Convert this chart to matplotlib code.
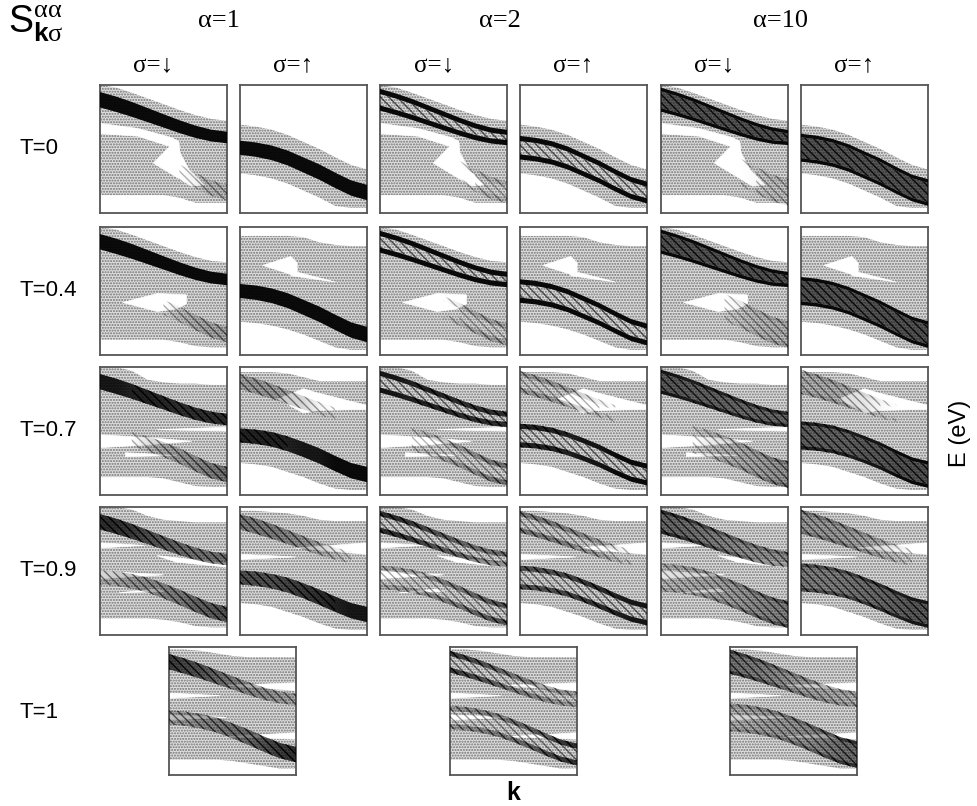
import numpy as np
import matplotlib
matplotlib.use("Agg")
import matplotlib.pyplot as plt
from matplotlib.patches import Polygon

plt.rcParams.update({
    "mathtext.fontset": "custom",
    "mathtext.rm": "Liberation Serif",
    "mathtext.it": "Liberation Serif:italic",
    "mathtext.sf": "Liberation Sans",
    "mathtext.bf": "Liberation Sans:bold",
})

# ---------------- data ----------------
K = [0.0, 0.125, 0.25, 0.375, 0.5, 0.625, 0.75, 0.875, 1.0]
ALPHAS = ["1", "2", "10"]
SPINS = ["↓", "↑"]
TEMPS = ["0", "0.4", "0.7", "0.9", "1"]

# band centres (E, panel fraction) at the k points
U_CENTER = [0.885, 0.85, 0.81, 0.765, 0.72, 0.675, 0.635, 0.605, 0.59]
L_CENTER = {
    "0":   [0.51, 0.495, 0.47, 0.43, 0.375, 0.32, 0.255, 0.195, 0.16],
    "0.4": [0.50, 0.487, 0.463, 0.425, 0.372, 0.318, 0.255, 0.195, 0.16],
    "0.7": [0.465, 0.455, 0.435, 0.40, 0.355, 0.305, 0.245, 0.19, 0.16],
    "0.9": [0.45, 0.44, 0.42, 0.39, 0.345, 0.295, 0.24, 0.19, 0.16],
    "1":   [0.45, 0.44, 0.42, 0.39, 0.345, 0.295, 0.24, 0.19, 0.16],
}
# half widths / half separations of the bands for each alpha
HALF_UP = {
    "1":  [0.06, 0.06, 0.058, 0.055, 0.052, 0.05, 0.048, 0.046, 0.045],
    "2":  [0.065, 0.064, 0.062, 0.058, 0.054, 0.05, 0.046, 0.042, 0.04],
    "10": [0.08, 0.078, 0.075, 0.07, 0.065, 0.06, 0.055, 0.05, 0.045],
}
HALF_LO = {
    "1":  [0.055, 0.056, 0.057, 0.058, 0.059, 0.06, 0.06, 0.06, 0.06],
    "2":  [0.072, 0.072, 0.071, 0.07, 0.069, 0.068, 0.067, 0.066, 0.065],
    "10": [0.095, 0.095, 0.094, 0.093, 0.092, 0.092, 0.091, 0.09, 0.09],
}
# spectral weight (darkness 0..1) of upper / lower band along k
W_UP = {
    ("0", "↓"):   [1, 1, 1, 1, 1, 1, 1, 1, 1],
    ("0", "↑"):   [0, 0, 0, 0, 0, 0, 0, 0, 0],
    ("0.4", "↓"): [1, 1, 1, 1, 1, 1, 1, 1, 1],
    ("0.4", "↑"): [0, 0, 0, 0, 0, 0, 0, 0, 0],
    ("0.7", "↓"): [0.95, 0.95, 0.9, 0.9, 0.88, 0.85, 0.85, 0.85, 0.85],
    ("0.7", "↑"): [0.3, 0.35, 0.35, 0.3, 0.25, 0.1, 0, 0, 0],
    ("0.9", "↓"): [0.85, 0.85, 0.8, 0.72, 0.65, 0.6, 0.55, 0.55, 0.55],
    ("0.9", "↑"): [0.5, 0.5, 0.5, 0.45, 0.4, 0.3, 0.15, 0, 0],
    ("1", ""):    [0.8, 0.75, 0.7, 0.6, 0.5, 0.45, 0.4, 0.35, 0.3],
}
W_LO = {
    ("0", "↓"):   [0, 0, 0, 0, 0, 0, 0.1, 0.2, 0.2],
    ("0", "↑"):   [1, 1, 1, 1, 1, 1, 1, 1, 1],
    ("0.4", "↓"): [0, 0, 0, 0, 0, 0.15, 0.25, 0.3, 0.3],
    ("0.4", "↑"): [1, 1, 1, 1, 1, 1, 1, 1, 1],
    ("0.7", "↓"): [0, 0, 0, 0.2, 0.3, 0.35, 0.4, 0.5, 0.55],
    ("0.7", "↑"): [0.9, 0.9, 0.9, 0.9, 0.95, 0.95, 1, 1, 1],
    ("0.9", "↓"): [0.25, 0.3, 0.35, 0.4, 0.45, 0.5, 0.6, 0.65, 0.7],
    ("0.9", "↑"): [0.7, 0.7, 0.7, 0.75, 0.8, 0.85, 0.9, 0.95, 0.95],
    ("1", ""):    [0.35, 0.4, 0.45, 0.5, 0.55, 0.6, 0.7, 0.8, 0.85],
}
# extent of the weak (stippled) spectral weight
STIP_TOP = {
    ("0", "↓"):   [1.0, 0.98, 0.94, 0.895, 0.85, 0.805, 0.765, 0.735, 0.72],
    ("0", "↑"):   [0.69, 0.675, 0.65, 0.61, 0.555, 0.50, 0.435, 0.375, 0.34],
    ("0.4", "↓"): [1.0, 0.98, 0.94, 0.895, 0.85, 0.805, 0.765, 0.735, 0.725],
    ("0.4", "↑"): [0.93, 0.93, 0.93, 0.93, 0.92, 0.88, 0.86, 0.85, 0.85],
    ("0.7", "↓"): [1.0, 1.0, 0.97, 0.9, 0.88, 0.87, 0.87, 0.86, 0.86],
    ("0.7", "↑"): [0.96, 0.96, 0.96, 0.95, 0.92, 0.89, 0.89, 0.89, 0.89],
    ("0.9", "↓"): [1.0, 1.0, 0.98, 0.93, 0.9, 0.89, 0.88, 0.88, 0.88],
    ("0.9", "↑"): [0.97, 0.97, 0.96, 0.95, 0.93, 0.9, 0.89, 0.89, 0.89],
    ("1", ""):    [0.98, 0.98, 0.97, 0.95, 0.93, 0.92, 0.92, 0.92, 0.92],
}
STIP_BOT = {
    ("0", "↓"):   [0.14, 0.14, 0.14, 0.14, 0.14, 0.12, 0.08, 0.08, 0.08],
    ("0", "↑"):   [0.31, 0.295, 0.27, 0.23, 0.175, 0.12, 0.055, 0.04, 0.04],
    ("0.4", "↓"): [0.12, 0.12, 0.12, 0.12, 0.12, 0.1, 0.07, 0.06, 0.06],
    ("0.4", "↑"): [0.26, 0.25, 0.23, 0.2, 0.16, 0.11, 0.06, 0.04, 0.04],
    ("0.7", "↓"): [0.14, 0.14, 0.14, 0.14, 0.13, 0.1, 0.07, 0.065, 0.065],
    ("0.7", "↑"): [0.25, 0.24, 0.22, 0.18, 0.14, 0.09, 0.05, 0.04, 0.04],
    ("0.9", "↓"): [0.13, 0.13, 0.13, 0.13, 0.12, 0.1, 0.07, 0.06, 0.06],
    ("0.9", "↑"): [0.25, 0.24, 0.22, 0.18, 0.14, 0.09, 0.05, 0.04, 0.04],
    ("1", ""):    [0.12, 0.12, 0.12, 0.12, 0.11, 0.09, 0.07, 0.05, 0.05],
}
# white gaps inside the stippled weight (k, E)
GAPS = {
    ("0", "↓"): [[(0, 0.70), (0.3, 0.66), (0.56, 0.59), (0.62, 0.56), (0.63, 0.47),
                  (0.70, 0.34), (0.82, 0.22), (0.72, 0.21), (0.42, 0.39), (0.55, 0.52),
                  (0.3, 0.60), (0, 0.62)]],
    ("0", "↑"): [],
    ("0.4", "↓"): [[(0.18, 0.41), (0.45, 0.48), (0.68, 0.47), (0.68, 0.40),
                    (0.60, 0.36), (0.45, 0.34)]],
    ("0.4", "↑"): [[(0.18, 0.70), (0.40, 0.77), (0.45, 0.72), (0.45, 0.65),
                    (0.40, 0.63)],
                   [(0.40, 0.66), (0.75, 0.57), (0.40, 0.62)]],
    ("0.7", "↓"): [[(0, 0.47), (0.35, 0.45), (0.72, 0.42), (0.35, 0.39), (0, 0.37)],
                   [(1.0, 0.53), (0.45, 0.51), (1.0, 0.50)],
                   [(0.2, 0.33), (0.6, 0.31), (0.2, 0.30)]],
    ("0.7", "↑"): [[(0.30, 0.75), (0.50, 0.83), (0.60, 0.80), (1.0, 0.70), (1.0, 0.67),
                    (0.60, 0.66), (0.50, 0.64)]],
    ("0.9", "↓"): [[(0, 0.72), (0.35, 0.70), (0, 0.68)],
                   [(0.45, 0.62), (1.0, 0.56), (1.0, 0.53), (0.6, 0.57)],
                   [(0, 0.50), (0.5, 0.47), (0, 0.44)],
                   [(0.15, 0.33), (0.45, 0.36), (0.5, 0.34)]],
    ("0.9", "↑"): [[(0.44, 0.68), (1.0, 0.72), (1.0, 0.63)],
                   [(0, 0.63), (0.44, 0.61), (0, 0.59)]],
    ("1", ""): [[(0.45, 0.70), (1.0, 0.72), (1.0, 0.66)],
                [(0, 0.64), (0.4, 0.62), (0, 0.60)],
                [(0, 0.47), (0.45, 0.45), (0, 0.43)],
                [(0.45, 0.30), (1.0, 0.33), (1.0, 0.28)]],
}

# ---------------- layout (pixels) ----------------
W_PX, H_PX = 977, 806
COL_LEFT = [100, 240, 380, 520, 661, 801]
ROW_TOP = [85, 227, 367, 507]
ROW5_TOP = 647
ROW5_LEFT = [169, 450, 730]
PW, PH = 127, 128

SANS = ["Liberation Sans", "DejaVu Sans"]
SERIF = ["Liberation Serif", "DejaVu Serif"]

fig = plt.figure(figsize=(W_PX / 100, H_PX / 100), dpi=100)
fig.patch.set_facecolor("white")


def px_axes(x, y, w, h):
    return fig.add_axes([x / W_PX, 1 - (y + h) / H_PX, w / W_PX, h / H_PX])


STEP = K[1] - K[0]
EXTENT = [K[0] - STEP / 2, K[-1] + STEP / 2, 0, 1]


def strip(ax, lo, hi, w, z=3, hatch=True, face=True):
    lo = np.asarray(lo, float)
    hi = np.asarray(hi, float)
    w = np.clip(np.asarray(w, float), 0, 1)
    if w.max() <= 0.02:
        return
    if face:
        rgba = np.zeros((1, len(K), 4))
        rgba[0, :, 3] = np.clip(0.95 * w ** 1.3, 0, 1)
        im = ax.imshow(rgba, extent=EXTENT, aspect="auto",
                       interpolation="bilinear", zorder=z, origin="lower")
        verts = list(zip(K, hi)) + list(zip(K[::-1], lo[::-1]))
        clip = Polygon(verts, closed=True, facecolor="none", edgecolor="none",
                       transform=ax.transData)
        ax.add_patch(clip)
        im.set_clip_path(clip)
    if hatch:
        for i in range(len(K) - 1):
            wi = 0.5 * (w[i] + w[i + 1])
            if wi <= 0.04 or wi >= 0.92:
                continue
            ax.fill_between([K[i], K[i + 1]], lo[i:i + 2], hi[i:i + 2],
                            facecolor="none",
                            edgecolor=(0, 0, 0, min(1.0, 0.25 + 0.9 * wi)),
                            hatch="\\\\\\\\", linewidth=0, zorder=z + 0.1)


def band(ax, alpha, c, h, w):
    c = np.asarray(c, float)
    h = np.asarray(h, float)
    w = np.asarray(w, float)
    if alpha == "1":
        strip(ax, c - h, c + h, w)
    elif alpha == "2":
        t = 0.02
        strip(ax, c + h - t, c + h + t, w)
        strip(ax, c - h - t, c - h + t, w)
        strip(ax, c - h + t, c + h - t, 0.4 * w, z=2.8, face=False)
    else:
        t = 0.014
        strip(ax, c - h + t, c + h - t, 0.7 * w, z=2.8)
        strip(ax, c + h - t, c + h + t, w)
        strip(ax, c - h - t, c - h + t, w)


def panel(ax, alpha, T, s):
    key = (T, s)
    for sp in ax.spines.values():
        sp.set_color("#555555")
        sp.set_linewidth(1.3)
    ax.fill_between(K, STIP_BOT[key], STIP_TOP[key], facecolor="#dedede",
                    edgecolor="#727272", hatch="......", linewidth=0, zorder=1)
    for g in GAPS[key]:
        ax.add_patch(Polygon(g, closed=True, facecolor="white",
                             edgecolor="white", linewidth=0.5, zorder=2))
    band(ax, alpha, U_CENTER, HALF_UP[alpha], W_UP[key])
    band(ax, alpha, L_CENTER[T], HALF_LO[alpha], W_LO[key])
    ax.set_xlim(0, 1)
    ax.set_ylim(0, 1)
    ax.set_xticks([])
    ax.set_yticks([])


for r, T in enumerate(TEMPS[:4]):
    for ai, a in enumerate(ALPHAS):
        for si, s in enumerate(SPINS):
            ax = px_axes(COL_LEFT[2 * ai + si], ROW_TOP[r], PW, PH)
            panel(ax, a, T, s)
for ai, a in enumerate(ALPHAS):
    ax = px_axes(ROW5_LEFT[ai], ROW5_TOP, PW, PH)
    panel(ax, a, "1", "")


def ftext(x, y, s, **kw):
    fig.text(x / W_PX, 1 - y / H_PX, s, **kw)


# headers
ALPHA_X = [219, 500, 780]
for ai, a in enumerate(ALPHAS):
    ftext(ALPHA_X[ai], 21, "α=" + a, family=SERIF, fontsize=19,
          ha="center", va="center")
SIGMA_X = [153, 293, 434, 573, 714, 854]
for c in range(6):
    ftext(SIGMA_X[c], 65, "σ=" + SPINS[c % 2], family=SERIF, fontsize=18,
          ha="center", va="center")
ROW_Y = [149, 290, 430, 570, 712]
for r, T in enumerate(TEMPS):
    ftext(20, ROW_Y[r], "T=" + T, family=SANS, fontsize=16, ha="left",
          va="center")

ftext(8, 33, r"$\mathsf{S}^{\mathrm{αα}}_{\mathbf{k}\mathrm{σ}}$",
      fontsize=27, ha="left", va="baseline")

ftext(960, 433, "E (eV)", family=SANS, fontsize=17, rotation=90,
      ha="center", va="center")
ftext(513, 793, "k", family=SANS, fontsize=18, fontweight="bold",
      ha="center", va="center")

fig.savefig("out.png", dpi=100, facecolor="white")
